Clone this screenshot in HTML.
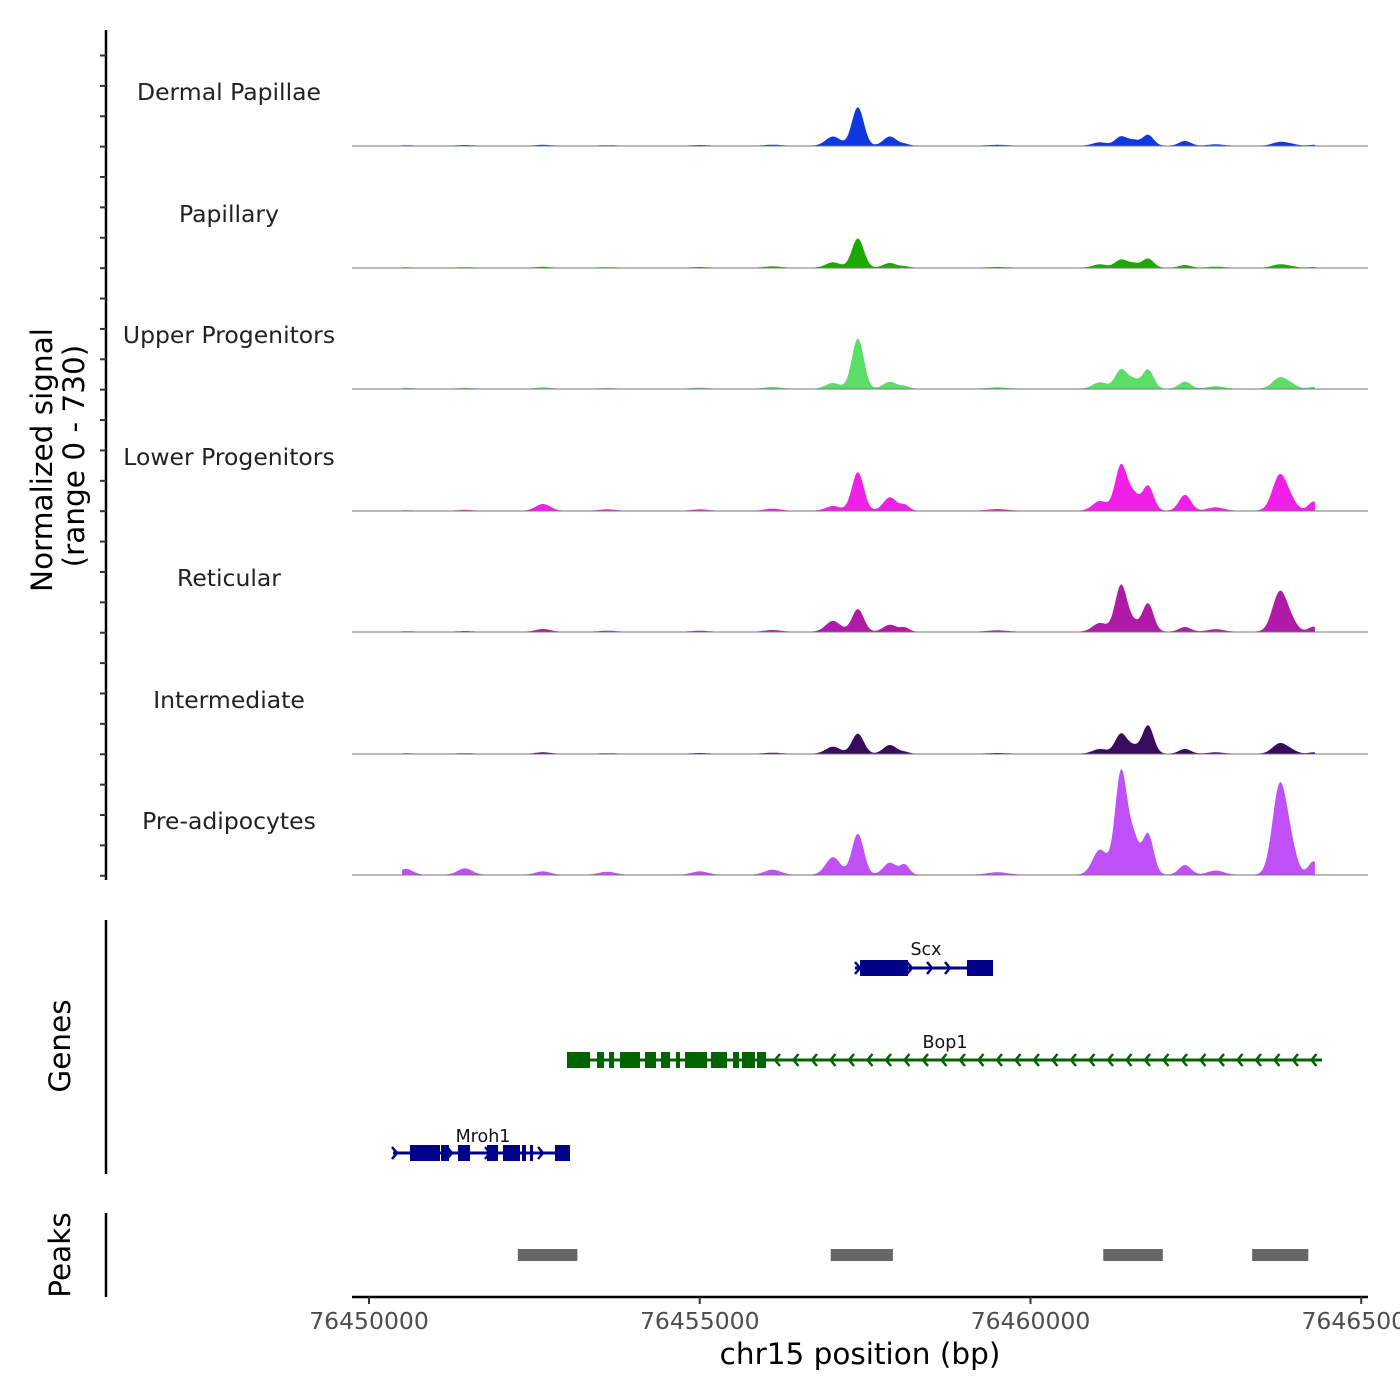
<!DOCTYPE html>
<html><head><meta charset="utf-8"><style>
html,body{margin:0;padding:0;background:#fff;}
svg{display:block;font-family:"DejaVu Sans","Liberation Sans",sans-serif;}
</style></head><body>
<svg id="chart" width="1400" height="1400" viewBox="0 0 1400 1400">
<g id="tracks"></g>
<g id="genes"></g>
<g id="peaks"></g>
<g id="axes"></g>
</svg>
<script>
const trackNames = ["Dermal Papillae","Papillary","Upper Progenitors","Lower Progenitors","Reticular","Intermediate","Pre-adipocytes"];
const trackColors = ["#1038e0","#1caa00","#5ade68","#f020e8","#b01aa8","#3a0c60","#c050f8"];
// peak centres (bp offset from 76450000) and widths (bp)
const peakPos   = [560, 1450, 2630, 3600, 5000, 6100, 7015, 7390, 7875, 8100, 9500, 11050, 11370, 11560, 11775, 12335, 12800, 13770, 13950, 14280];
const peakWidth = [100, 110, 110, 120, 120, 120, 110, 90, 100, 70, 150, 110, 90, 80, 85, 90, 120, 110, 90, 80];
// per-track peak heights (signal units, range 0-730)
const heights = [
  [3, 4, 5, 3, 4, 6, 55, 230, 55, 10, 5, 20, 55, 30, 65, 28, 8, 22, 8, 5],
  [2, 3, 5, 3, 4, 8, 32, 175, 28, 8, 4, 20, 48, 25, 55, 16, 6, 20, 6, 4],
  [5, 5, 8, 4, 6, 10, 34, 300, 42, 15, 8, 38, 115, 50, 115, 42, 15, 66, 20, 10],
  [3, 5, 40, 8, 8, 12, 28, 230, 80, 33, 10, 58, 275, 90, 150, 95, 20, 215, 40, 55],
  [3, 4, 16, 6, 6, 10, 65, 135, 42, 24, 8, 52, 280, 50, 170, 28, 15, 240, 45, 30],
  [2, 3, 8, 3, 4, 6, 42, 120, 52, 10, 4, 28, 120, 40, 170, 28, 8, 62, 15, 8],
  [35, 38, 20, 18, 20, 30, 105, 245, 72, 58, 15, 150, 620, 200, 245, 58, 25, 540, 110, 80]
];
const xTicks = [76450000, 76455000, 76460000, 76465000];
const peakRegions = [[2250,3150],[6980,7920],[11100,12000],[13350,14200]];
const NS="http://www.w3.org/2000/svg";
const X0=369, PX=0.06615, BASE=76450000;
function xs(bp){return X0+bp*PX;}
const trackBase=[146,268,389,511,632,754,875], trackH=121.5, MAXV=730;
function ys(i,v){return trackBase[i]-v/MAXV*trackH;}
function mk(tag,attrs,parent){const e=document.createElementNS(NS,tag);for(const k in attrs)e.setAttribute(k,attrs[k]);parent.appendChild(e);return e;}
const gT=document.getElementById('tracks');
for(let i=0;i<7;i++){
  let d="M"+xs(500)+","+trackBase[i];
  for(let bp=500;bp<=14300;bp+=10){
    let v=0;
    for(let p=0;p<peakPos.length;p++){const z=(bp-peakPos[p])/peakWidth[p];v+=heights[i][p]*Math.exp(-0.5*z*z);}
    v+=2;
    d+=" L"+xs(bp).toFixed(1)+","+ys(i,Math.min(v,MAXV)).toFixed(1);
  }
  d+=" L"+xs(14300)+","+trackBase[i]+" Z";
  const a=mk('path',{d:d,fill:trackColors[i]},gT);
  
  
  const l=mk('line',{x1:352,x2:1368,y1:trackBase[i],y2:trackBase[i],stroke:'#777','stroke-width':1},gT);
  
  
  const t=mk('text',{x:229,y:trackBase[i]-46,'text-anchor':'middle','font-size':23.5,fill:'#222'},gT);
  t.textContent=trackNames[i];
  
  
}
// genes (pixel layout of gene models)
const gG=document.getElementById('genes');
function gene(name,y,x1,x2,exons,color,dir,arrows,lx,ly){
  mk('line',{x1:x1,x2:x2,y1:y,y2:y,stroke:color,'stroke-width':3},gG);
  for(const e of exons)mk('rect',{x:e[0],y:y-8,width:e[1]-e[0],height:16,fill:color},gG);
  for(const ax of arrows){const s=dir>0?-1:1;mk('path',{d:`M${ax+s*5},${y-6} L${ax},${y} L${ax+s*5},${y+6}`,stroke:color,'stroke-width':2.5,fill:'none'},gG);}
  const t=mk('text',{x:lx,y:ly,'text-anchor':'middle','font-size':17.5,fill:'#111'},gG);t.textContent=name;
  
  
}
gene('Scx',968,855,993,[[860,908],[967,993]],'#000088',1,[860,912,932,950],926,955);
const bopArrows=[];for(let a=775;a<1315;a+=18.5)bopArrows.push(a);
gene('Bop1',1060,567,1322,[[567,590],[597,604],[609,614],[620,640],[645,656],[661,670],[676,680],[685,707],[711,727],[733,739],[742,755],[757,766]],'#006400',-1,bopArrows,945,1048);
gene('Mroh1',1153,393,570,[[410,440],[441,449],[458,470],[487,498],[503,520],[522,526],[530,533],[555,570]],'#000088',1,[397,452,490,543],483,1142);
// peaks
const gP=document.getElementById('peaks');
for(const r of peakRegions){
  const b=mk('rect',{x:xs(r[0]),y:1249,width:(r[1]-r[0])*PX,height:12,fill:'#666'},gP);
  
  
}
// axes
const gA=document.getElementById('axes');
mk('line',{x1:106,x2:106,y1:30,y2:880,stroke:'#000','stroke-width':2.5},gA);
for(let y=55.5;y<=880;y+=30.38)mk('line',{x1:100,x2:106,y1:y,y2:y,stroke:'#333','stroke-width':2},gA);
mk('line',{x1:106,x2:106,y1:920,y2:1174,stroke:'#000','stroke-width':2.5},gA);
mk('line',{x1:106,x2:106,y1:1213,y2:1297,stroke:'#000','stroke-width':2.5},gA);
mk('line',{x1:352,x2:1368,y1:1297,y2:1297,stroke:'#000','stroke-width':2.5},gA);
for(const t of xTicks){
  const x=xs(t-BASE);
  mk('line',{x1:x,x2:x,y1:1297,y2:1304,stroke:'#333','stroke-width':2},gA);
  const tx=mk('text',{x:x,y:1329,'text-anchor':'middle','font-size':23.5,fill:'#4d4d4d'},gA);tx.textContent=t;
  
  
}
function rt(txt,x,y,size,name){const t=mk('text',{x:0,y:0,'text-anchor':'middle','font-size':size,fill:'#000',transform:`translate(${x},${y}) rotate(-90)`},gA);t.textContent=txt;
  
  }
rt('Normalized signal',52,460,29.5,'y-axis-title');
rt('(range 0 - 730)',84,456,29.5,'y-axis-subtitle');
rt('Genes',70,1046,29.5,'genes-axis-title');
rt('Peaks',70,1255,29.5,'peaks-axis-title');
const xt=mk('text',{x:860,y:1364,'text-anchor':'middle','font-size':29.5,fill:'#000'},gA);xt.textContent='chr15 position (bp)';


</script>
</body></html>
